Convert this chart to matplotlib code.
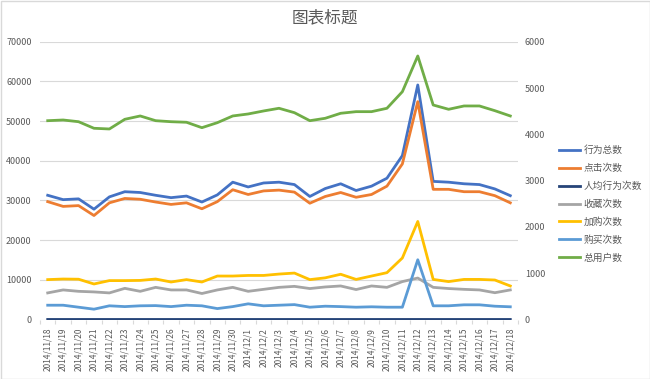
import numpy as np
import matplotlib
matplotlib.use("Agg")
import matplotlib.pyplot as plt
from matplotlib.patches import Rectangle

plt.rcParams['font.family'] = ['Noto Sans CJK SC', 'DejaVu Sans']

# 日期
dates = ["2014/11/18", "2014/11/19", "2014/11/20", "2014/11/21", "2014/11/22", "2014/11/23",
         "2014/11/24", "2014/11/25", "2014/11/26", "2014/11/27", "2014/11/28", "2014/11/29",
         "2014/11/30", "2014/12/1", "2014/12/2", "2014/12/3", "2014/12/4", "2014/12/5",
         "2014/12/6", "2014/12/7", "2014/12/8", "2014/12/9", "2014/12/10", "2014/12/11",
         "2014/12/12", "2014/12/13", "2014/12/14", "2014/12/15", "2014/12/16", "2014/12/17",
         "2014/12/18"]

# 左轴数据
total_actions = [31300, 30200, 30400, 27800, 30900, 32200, 32000, 31300, 30700, 31100,
                 29600, 31400, 34600, 33400, 34400, 34600, 34000, 31000, 33000, 34200,
                 32500, 33600, 35600, 41300, 59100, 34800, 34600, 34200, 34000, 32900, 31200]
clicks = [29700, 28500, 28700, 26200, 29400, 30500, 30300, 29600, 29000, 29400,
          27900, 29700, 32700, 31500, 32400, 32600, 32100, 29300, 31000, 32000,
          30800, 31500, 33600, 39200, 54900, 32800, 32800, 32200, 32200, 31200, 29400]
per_user = [7.3, 7.0, 7.1, 6.7, 7.5, 7.4, 7.3, 7.3, 7.2, 7.3, 7.2, 7.4, 7.9, 7.5, 7.6, 7.6,
            7.6, 7.2, 7.6, 7.7, 7.3, 7.5, 7.8, 8.4, 10.4, 7.5, 7.6, 7.4, 7.4, 7.3, 7.1]
favorites = [6700, 7450, 7100, 6950, 6700, 7850, 7100, 8100, 7450, 7450, 6550, 7450,
             8100, 7100, 7600, 8100, 8350, 7800, 8200, 8450, 7550, 8450, 8100, 9550,
             10450, 8100, 7800, 7600, 7450, 6750, 7450]
carts = [10050, 10200, 10150, 8950, 9800, 9800, 9850, 10200, 9450, 10050, 9450, 10950,
         10950, 11100, 11100, 11450, 11700, 10050, 10500, 11400, 10100, 10950, 11800,
         15500, 24700, 10100, 9550, 10100, 10100, 9950, 8450]
buys = [3600, 3600, 3100, 2600, 3450, 3250, 3450, 3500, 3250, 3600, 3450, 2750, 3250,
        3950, 3450, 3600, 3750, 3100, 3350, 3250, 3100, 3200, 3100, 3100, 15050, 3450,
        3450, 3700, 3700, 3350, 3200]

# 右轴数据
users = [4294, 4309, 4272, 4130, 4115, 4324, 4396, 4294, 4272, 4260, 4143, 4251, 4396,
         4439, 4504, 4562, 4467, 4294, 4346, 4454, 4489, 4489, 4562, 4920, 5692, 4633,
         4540, 4612, 4612, 4510, 4396]

labels = ["行为总数", "点击次数", "人均行为次数", "收藏次数", "加购次数", "购买次数", "总用户数"]
colors = ["#4472C4", "#ED7D31", "#264478", "#A5A5A5", "#FFC000", "#5B9BD5", "#70AD47"]

txt = "#595959"
grid = "#D9D9D9"

fig = plt.figure(figsize=(6.5, 3.79), dpi=100)
ax = fig.add_axes([40 / 650, 1 - 319.5 / 379, 478 / 650, 277.8 / 379])
ax2 = ax.twinx()

x = np.arange(len(dates))
left_series = [total_actions, clicks, per_user, favorites, carts, buys]
handles = []
for vals, lab, col in zip(left_series, labels[:6], colors[:6]):
    h, = ax.plot(x, vals, color=col, lw=2, label=lab, solid_joinstyle='round')
    handles.append(h)
h, = ax2.plot(x, users, color=colors[6], lw=2, label=labels[6], solid_joinstyle='round')
handles.append(h)

ax.set_ylim(0, 70000)
ax.set_yticks(np.arange(0, 70001, 10000))
ax2.set_ylim(0, 6000)
ax2.set_yticks(np.arange(0, 6001, 1000))
ax.set_xlim(-0.5, len(dates) - 0.5)
ax.set_xticks(x)
ax.set_xticklabels(dates, rotation=90)
ax.set_xticks(np.arange(-0.5, len(dates), 1), minor=True)

ax.grid(axis='y', color=grid, lw=0.8)
ax.set_axisbelow(True)
for a in (ax, ax2):
    for s in a.spines.values():
        s.set_visible(False)
ax.tick_params(axis='y', length=0, labelsize=6.5, labelcolor=txt, pad=6)
ax2.tick_params(axis='y', length=0, labelsize=6.5, labelcolor=txt, pad=5)
ax.tick_params(axis='x', which='major', length=0, labelsize=6, labelcolor=txt, pad=6)
ax.tick_params(axis='x', which='minor', length=3, color=grid, width=0.8)

fig.text(0.5, 1 - 18 / 379, "图表标题", ha='center', va='center', fontsize=12, color=txt)

fig.legend(handles=handles, labels=labels, loc='upper left',
           bbox_to_anchor=(559 / 650, 1 - 145 / 379), frameon=False, fontsize=7,
           handlelength=2.2, handletextpad=0.3, labelspacing=0.82,
           borderpad=0, borderaxespad=0, labelcolor=txt)

fig.patches.append(Rectangle((0.5 / 650, 0.5 / 379), 649 / 650, 378 / 379, transform=fig.transFigure,
                             fill=False, edgecolor=grid, lw=1))

fig.savefig("out.png", dpi=100)
